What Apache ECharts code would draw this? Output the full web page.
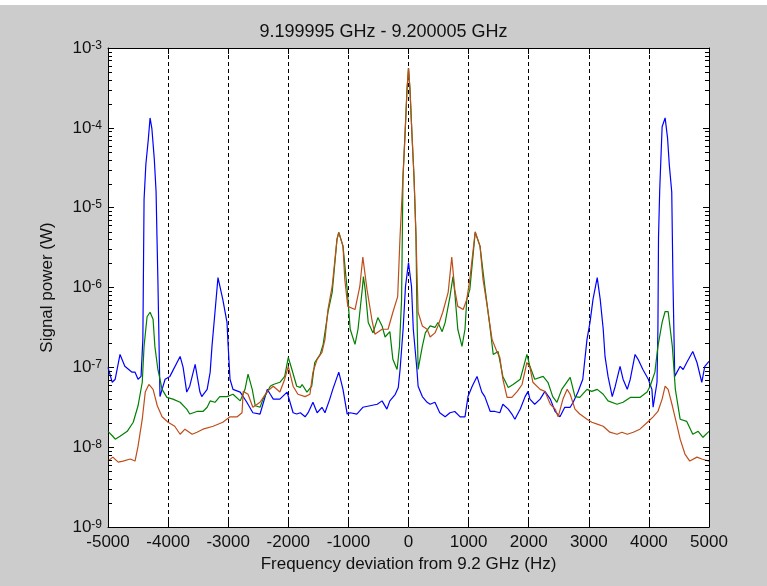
<!DOCTYPE html>
<html>
<head>
<meta charset="utf-8">
<script src="https://cdn.jsdelivr.net/npm/echarts@6/dist/echarts.min.js"></script>
<style>
html,body{margin:0;padding:0;background:#cccccc;}
#chart{width:767px;height:586px;}
</style>
</head>
<body>
<div id="chart"></div>
<script>
const titleText = '9.199995 GHz - 9.200005 GHz';
const xName = 'Frequency deviation from 9.2 GHz (Hz)';
const yName = 'Signal power (W)';
const xTicks = [-5000,-4000,-3000,-2000,-1000,0,1000,2000,3000,4000,5000];
const minorMantissas = [2,3,4,5,6,7,8,9];
const decades = [-9,-8,-7,-6,-5,-4];

// [Hz, W]
const blue = [[-5000,1.0e-7],[-4930,6.5e-8],[-4880,7.1e-8],[-4800,1.45e-7],[-4720,1.03e-7],[-4600,8.7e-8],[-4550,8.7e-8],[-4500,7.1e-8],[-4450,7.7e-8],[-4420,2.24e-7],[-4400,1.26e-5],[-4370,3.5e-5],[-4330,7.1e-5],[-4300,1.33e-4],[-4270,9.8e-5],[-4230,4.1e-5],[-4200,1.58e-5],[-4185,4.3e-6],[-4170,1.26e-6],[-4135,4.3e-8],[-4100,5.3e-8],[-4050,7.1e-8],[-3970,7.7e-8],[-3800,1.37e-7],[-3750,1.0e-7],[-3690,4.9e-8],[-3640,5.8e-8],[-3550,1.09e-7],[-3520,1.03e-7],[-3470,4.9e-8],[-3440,4.3e-8],[-3350,5.3e-8],[-3300,8.7e-8],[-3270,1.83e-7],[-3220,4.9e-7],[-3170,1.33e-6],[-3090,7.1e-7],[-3020,3.65e-7],[-3000,1.83e-7],[-2970,7.1e-8],[-2920,5.3e-8],[-2800,4.9e-8],[-2690,3.65e-8],[-2590,2.7e-8],[-2470,2.6e-8],[-2350,5.3e-8],[-2300,4.6e-8],[-2250,4.0e-8],[-2140,4.0e-8],[-2020,4.9e-8],[-1920,2.7e-8],[-1860,2.6e-8],[-1800,2.7e-8],[-1720,2.4e-8],[-1670,2.7e-8],[-1590,3.65e-8],[-1520,2.7e-8],[-1440,3.16e-8],[-1390,2.7e-8],[-1310,4.0e-8],[-1260,5.3e-8],[-1160,8.7e-8],[-1090,5.3e-8],[-1020,2.6e-8],[-970,2.7e-8],[-860,2.6e-8],[-760,3.16e-8],[-640,3.3e-8],[-520,3.45e-8],[-440,3.8e-8],[-360,3.0e-8],[-310,3.8e-8],[-220,4.6e-8],[-170,5.6e-8],[-140,9.4e-8],[-90,3.0e-7],[-50,1.03e-6],[0,2.05e-6],[50,1.03e-6],[80,3.0e-7],[140,9.4e-8],[160,5.8e-8],[230,4.3e-8],[310,3.65e-8],[360,3.45e-8],[440,3.65e-8],[520,2.7e-8],[610,2.4e-8],[690,2.7e-8],[770,2.8e-8],[860,2.4e-8],[940,2.4e-8],[990,4.3e-8],[1060,5.8e-8],[1140,7.7e-8],[1220,4.9e-8],[1270,4.3e-8],[1360,2.8e-8],[1440,2.8e-8],[1520,2.7e-8],[1570,3.45e-8],[1660,3.0e-8],[1720,2.6e-8],[1770,2.24e-8],[1860,3.0e-8],[1940,4.3e-8],[1990,5.0e-8],[2020,4.0e-8],[2100,3.45e-8],[2190,4.0e-8],[2270,5.0e-8],[2360,4.0e-8],[2440,2.8e-8],[2520,2.4e-8],[2600,3.16e-8],[2690,3.16e-8],[2740,3.65e-8],[2820,4.9e-8],[2900,7.1e-8],[2970,2.24e-7],[3020,3.65e-7],[3070,7.1e-7],[3140,1.33e-6],[3190,7.1e-7],[3240,3.0e-7],[3270,1.37e-7],[3320,7.7e-8],[3390,4.3e-8],[3440,5.8e-8],[3520,1.03e-7],[3570,7.1e-8],[3640,5.3e-8],[3690,7.1e-8],[3770,1.45e-7],[3820,1.26e-7],[3900,9.4e-8],[3990,7.1e-8],[4050,5.3e-8],[4070,3.16e-8],[4100,3.16e-8],[4135,6.5e-8],[4150,3.0e-7],[4160,4.3e-6],[4180,1.68e-5],[4220,1.03e-4],[4270,1.33e-4],[4310,7.5e-5],[4340,3.4e-5],[4380,1.58e-5],[4400,1.26e-6],[4430,7.7e-8],[4520,1.03e-7],[4570,9.4e-8],[4630,1.15e-7],[4730,1.58e-7],[4800,1.15e-7],[4880,6.5e-8],[4930,1.03e-7],[5000,1.19e-7]];

const green = [[-5000,1.58e-8],[-4920,1.37e-8],[-4880,1.26e-8],[-4800,1.37e-8],[-4680,1.58e-8],[-4580,2.05e-8],[-4500,3.3e-8],[-4430,6.5e-8],[-4400,1.83e-7],[-4350,4.3e-7],[-4300,4.9e-7],[-4250,4.0e-7],[-4220,1.83e-7],[-4170,9.4e-8],[-4100,5.3e-8],[-4020,4.2e-8],[-3920,4.0e-8],[-3800,3.65e-8],[-3690,3.0e-8],[-3640,2.6e-8],[-3520,2.8e-8],[-3420,2.8e-8],[-3350,3.16e-8],[-3300,3.8e-8],[-3220,3.65e-8],[-3140,4.3e-8],[-3020,4.3e-8],[-2920,4.6e-8],[-2800,3.8e-8],[-2720,5.3e-8],[-2670,8.2e-8],[-2600,5.3e-8],[-2550,3.3e-8],[-2470,3.16e-8],[-2420,4.0e-8],[-2350,4.9e-8],[-2300,5.8e-8],[-2250,6.1e-8],[-2140,6.5e-8],[-2060,7.7e-8],[-2000,1.33e-7],[-1940,9.4e-8],[-1860,5.8e-8],[-1800,5.6e-8],[-1770,6.1e-8],[-1690,4.9e-8],[-1610,5.8e-8],[-1560,1.15e-7],[-1470,1.45e-7],[-1420,1.94e-7],[-1340,4.9e-7],[-1270,8.7e-7],[-1250,1.26e-6],[-1190,4.0e-6],[-1160,4.9e-6],[-1090,3.3e-6],[-1020,9.4e-7],[-970,3.0e-7],[-890,1.94e-7],[-840,3.0e-7],[-770,9.4e-7],[-750,1.37e-6],[-720,9.4e-7],[-670,3.65e-7],[-590,2.7e-7],[-510,4.2e-7],[-440,3.3e-7],[-390,2.4e-7],[-310,2.8e-7],[-260,1.26e-7],[-190,9.4e-8],[-150,1.83e-7],[-115,7.1e-7],[-92,2.4e-5],[-58,8.2e-5],[-25,3.0e-4],[0,5.6e-4],[25,3.0e-4],[58,8.2e-5],[92,2.4e-5],[125,4.3e-6],[140,4.9e-7],[160,9.4e-8],[230,1.83e-7],[280,2.7e-7],[360,3.3e-7],[440,3.16e-7],[490,3.65e-7],[560,2.8e-7],[610,3.65e-7],[690,7.7e-7],[740,1.37e-6],[770,8.7e-7],[820,3.0e-7],[890,1.83e-7],[940,3.0e-7],[970,7.1e-7],[1020,9.4e-7],[1110,4.9e-6],[1190,3.3e-6],[1270,1.03e-6],[1360,3.0e-7],[1410,1.45e-7],[1490,1.58e-7],[1570,7.7e-8],[1660,5.6e-8],[1740,6.1e-8],[1860,7.1e-8],[1970,1.45e-7],[2020,1.03e-7],[2100,7.1e-8],[2240,7.7e-8],[2320,6.5e-8],[2400,4.3e-8],[2470,3.65e-8],[2550,5.3e-8],[2690,7.5e-8],[2770,4.3e-8],[2850,4.2e-8],[2970,5.3e-8],[3050,5.0e-8],[3140,5.3e-8],[3240,4.6e-8],[3320,3.8e-8],[3470,3.45e-8],[3570,3.65e-8],[3690,4.2e-8],[3850,4.2e-8],[3970,4.9e-8],[4020,5.8e-8],[4100,8.7e-8],[4150,1.83e-7],[4220,3.65e-7],[4270,5.0e-7],[4320,5.0e-7],[4390,1.83e-7],[4440,5.3e-8],[4520,2.24e-8],[4630,2.1e-8],[4730,1.45e-8],[4820,1.58e-8],[4900,1.33e-8],[5000,1.58e-8]];

const brown = [[-5000,6.7e-9],[-4920,7.5e-9],[-4830,6.5e-9],[-4750,6.7e-9],[-4630,7.1e-9],[-4550,6.7e-9],[-4500,1.03e-8],[-4430,2.24e-8],[-4380,4.9e-8],[-4320,6.1e-8],[-4250,5.3e-8],[-4180,3.3e-8],[-4100,2.4e-8],[-4000,2.05e-8],[-3890,1.83e-8],[-3800,1.45e-8],[-3720,1.68e-8],[-3600,1.45e-8],[-3520,1.54e-8],[-3420,1.68e-8],[-3250,1.83e-8],[-3090,2.05e-8],[-2970,2.4e-8],[-2850,2.4e-8],[-2770,2.7e-8],[-2750,5.0e-8],[-2670,4.6e-8],[-2590,3.16e-8],[-2470,3.65e-8],[-2350,5.0e-8],[-2250,5.8e-8],[-2140,4.9e-8],[-2060,7.1e-8],[-2000,1.03e-7],[-1920,5.8e-8],[-1840,4.6e-8],[-1720,4.3e-8],[-1640,4.6e-8],[-1590,8.7e-8],[-1520,1.26e-7],[-1440,1.54e-7],[-1390,2.24e-7],[-1340,5.3e-7],[-1270,1.03e-6],[-1190,4.0e-6],[-1160,4.9e-6],[-1090,3.3e-6],[-1060,1.26e-6],[-1010,5.8e-7],[-890,5.3e-7],[-810,1.03e-6],[-760,2.4e-6],[-690,9.4e-7],[-610,4.0e-7],[-560,2.6e-7],[-440,3.0e-7],[-340,3.0e-7],[-260,4.9e-7],[-180,7.7e-7],[-141,4.3e-6],[-92,2.4e-5],[-58,8.2e-5],[-25,3.0e-4],[0,5.6e-4],[25,3.0e-4],[58,8.2e-5],[92,2.4e-5],[125,4.3e-6],[160,4.9e-7],[230,3.3e-7],[310,3.0e-7],[360,2.4e-7],[440,2.7e-7],[490,3.3e-7],[570,4.9e-7],[660,8.7e-7],[720,2.4e-6],[770,9.4e-7],[820,5.8e-7],[910,5.3e-7],[970,7.1e-7],[1020,1.26e-6],[1110,5.0e-6],[1190,3.3e-6],[1240,1.26e-6],[1310,5.8e-7],[1390,2.24e-7],[1470,1.58e-7],[1520,1.33e-7],[1570,7.1e-8],[1640,4.2e-8],[1720,4.2e-8],[1810,5.0e-8],[1890,6.1e-8],[1970,1.15e-7],[2020,1.0e-7],[2070,6.5e-8],[2190,5.3e-8],[2270,5.0e-8],[2360,3.45e-8],[2440,3.0e-8],[2490,2.4e-8],[2570,4.0e-8],[2640,5.3e-8],[2690,4.6e-8],[2770,3.0e-8],[2850,2.6e-8],[2970,2.24e-8],[3050,2.05e-8],[3140,1.94e-8],[3240,1.83e-8],[3350,1.54e-8],[3470,1.45e-8],[3550,1.54e-8],[3640,1.45e-8],[3740,1.54e-8],[3850,1.68e-8],[3990,2.1e-8],[4070,2.4e-8],[4150,2.8e-8],[4220,4.0e-8],[4270,5.8e-8],[4320,5.3e-8],[4390,3.3e-8],[4470,1.83e-8],[4520,1.26e-8],[4600,8.2e-9],[4680,6.7e-9],[4800,7.5e-9],[4880,7.1e-9],[5000,6.7e-9]];

const FONT = '"Liberation Sans", Arial, sans-serif';
const minorTicks = [];
decades.forEach(d => minorMantissas.forEach(m => minorTicks.push([xTicks[0], m * Math.pow(10, d)])));

const chart = echarts.init(document.getElementById('chart'), null, {renderer: 'canvas'});
const axisLineStyle = {show: true, onZero: false, lineStyle: {color: '#000', width: 1}};
const option = {
  animation: false,
  backgroundColor: '#cccccc',
  graphic: [{type: 'rect', left: 0, top: 0, shape: {width: 767, height: 5}, style: {fill: '#ffffff'}, silent: true}],
  title: {
    text: titleText, left: 'center', top: 18,
    textStyle: {fontFamily: FONT, fontSize: 18, fontWeight: 'normal', color: '#111'}
  },
  grid: {left: 108, right: 58, top: 48, bottom: 59, show: true, backgroundColor: '#ffffff', borderWidth: 0},
  xAxis: [{
    type: 'value', min: xTicks[0], max: xTicks[xTicks.length - 1], interval: 1000, position: 'bottom',
    name: xName, nameLocation: 'middle', nameGap: 28,
    nameTextStyle: {fontFamily: FONT, fontSize: 17, color: '#111'},
    axisLine: axisLineStyle,
    axisTick: {show: true, inside: true, length: 6, lineStyle: {color: '#000'}},
    axisLabel: {fontFamily: FONT, fontSize: 17, color: '#111', margin: 7, formatter: v => String(v)},
    splitLine: {show: true, lineStyle: {color: '#000', type: [4, 3], width: 1}}
  }, {
    type: 'value', min: xTicks[0], max: xTicks[xTicks.length - 1], interval: 1000, position: 'top',
    axisLine: axisLineStyle,
    axisTick: {show: true, inside: true, length: 6, lineStyle: {color: '#000'}},
    axisLabel: {show: false}, splitLine: {show: false}
  }],
  yAxis: [{
    type: 'log', logBase: 10, min: 1e-9, max: 1e-3, splitNumber: 6, position: 'left',
    name: yName, nameLocation: 'middle', nameGap: 52,
    nameTextStyle: {fontFamily: FONT, fontSize: 17, color: '#111'},
    axisLine: axisLineStyle,
    axisTick: {show: true, inside: true, length: 6, lineStyle: {color: '#000'}},
    axisLabel: {
      margin: 6,
      formatter: v => '{b|10}{e|' + Math.round(Math.log10(v)) + '}',
      rich: {
        b: {fontFamily: FONT, fontSize: 17, lineHeight: 17, color: '#111', padding: [6, 0, 6, 0]},
        e: {fontFamily: FONT, fontSize: 12, lineHeight: 12, color: '#111', verticalAlign: 'top'}
      }
    },
    splitLine: {show: false}
  }, {
    type: 'log', logBase: 10, min: 1e-9, max: 1e-3, splitNumber: 6, position: 'right',
    axisLine: axisLineStyle,
    axisTick: {show: true, inside: true, length: 6, lineStyle: {color: '#000'}},
    axisLabel: {show: false}, splitLine: {show: false}
  }],
  series: [
    {type: 'line', name: 'blue', data: blue, showSymbol: false, symbol: 'none', lineStyle: {color: '#0000ff', width: 1.2}, z: 3},
    {type: 'line', name: 'green', data: green, showSymbol: false, symbol: 'none', lineStyle: {color: '#008000', width: 1.2}, z: 4},
    {type: 'line', name: 'brown', data: brown, showSymbol: false, symbol: 'none', lineStyle: {color: '#bf4d1a', width: 1.2}, z: 5},
    {
      type: 'custom', name: 'minorTicks', data: minorTicks, silent: true, z: 10,
      encode: {x: 0, y: 1},
      renderItem: (params, api) => {
        const p = api.coord([api.value(0), api.value(1)]);
        const cs = params.coordSys;
        const y = Math.round(p[1]) + 0.5;
        return {type: 'group', children: [
          {type: 'line', shape: {x1: cs.x, y1: y, x2: cs.x + 4, y2: y}, style: {stroke: '#000', lineWidth: 1}},
          {type: 'line', shape: {x1: cs.x + cs.width, y1: y, x2: cs.x + cs.width - 4, y2: y}, style: {stroke: '#000', lineWidth: 1}}
        ]};
      }
    }
  ]
};
chart.setOption(option);
</script>
</body>
</html>
